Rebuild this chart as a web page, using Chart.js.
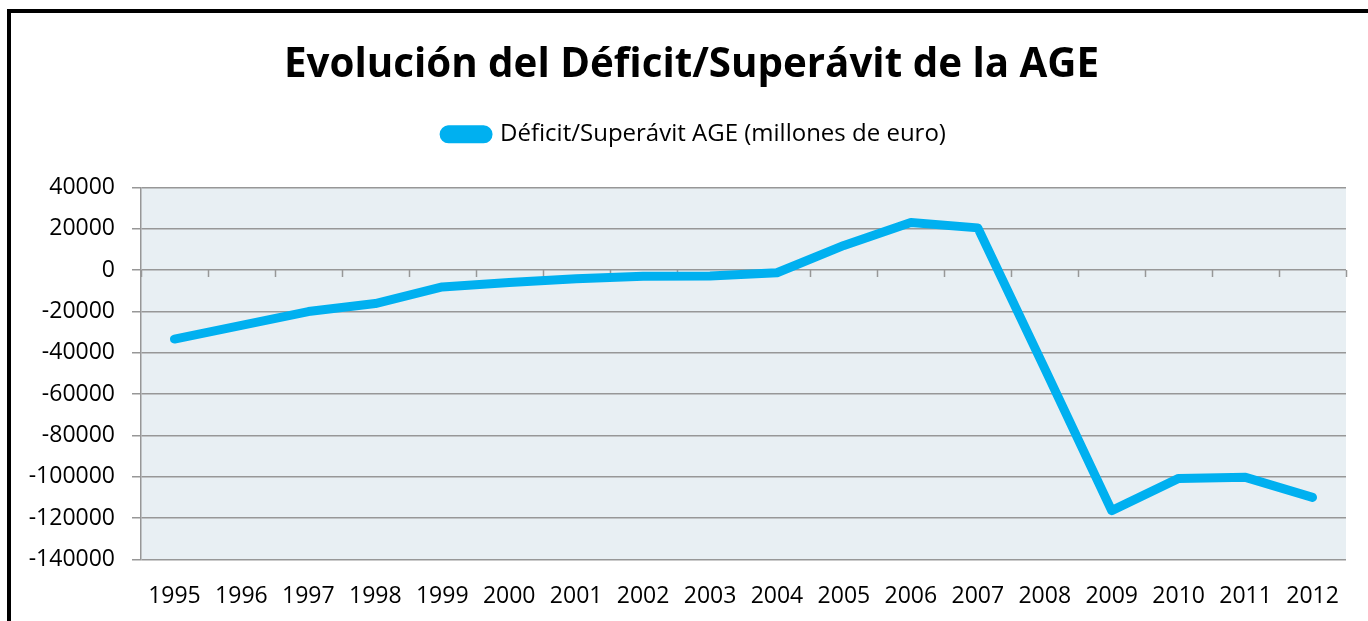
<!DOCTYPE html>
<html>
<head>
<meta charset="utf-8">
<script src="https://cdn.jsdelivr.net/npm/chart.js@4.4.1/dist/chart.umd.min.js"></script>
<style>
    html, body { margin: 0; padding: 0; background: #fff; overflow: hidden; }
    #wrap { position: relative; width: 1368px; height: 621px; }
    #frame {
        position: absolute; left: 7px; top: 9px; width: 1400px; height: 700px;
        border: 4px solid #000; pointer-events: none;
    }
</style>
</head>
<body>
<div id="wrap">
    <canvas id="deficitChart" width="1368" height="621"></canvas>
    <div id="frame"></div>
</div>
<script>
// Datos
const years = ['1995', '1996', '1997', '1998', '1999', '2000', '2001', '2002', '2003',
               '2004', '2005', '2006', '2007', '2008', '2009', '2010', '2011', '2012'];
const saldoAGE = [-33400, -26800, -20100, -16200, -8200, -6000, -4200, -3000, -2900,
                  -1300, 11900, 23000, 20400, -47700, -116400, -100800, -100300, -110000];
const yTicks = [40000, 20000, 0, -20000, -40000, -60000, -80000, -100000, -120000, -140000];

const FONT = "'Open Sans', 'Noto Sans', sans-serif";
const GRID = '#979797';

// fondo del área de trazado
const plotBackground = {
    id: 'plotBackground',
    beforeDraw(chart) {
        const { ctx, chartArea: { left, top, width, height } } = chart;
        ctx.save();
        ctx.fillStyle = '#e8eff3';
        ctx.fillRect(left, top, width, height);
        ctx.restore();
    }
};

// marcas del eje de categorías sobre la línea del cero
const zeroAxisTicks = {
    id: 'zeroAxisTicks',
    beforeDatasetsDraw(chart) {
        const { ctx, scales: { x, y } } = chart;
        const y0 = y.getPixelForValue(0);
        const n = x.ticks.length;
        const w = (x.right - x.left) / n;
        ctx.save();
        ctx.strokeStyle = GRID;
        ctx.lineWidth = 1.5;
        ctx.beginPath();
        for (let i = 0; i <= n; i++) {
            const xp = Math.round(x.left + i * w) + 0.5;
            ctx.moveTo(xp, y0);
            ctx.lineTo(xp, y0 + 7);
        }
        ctx.stroke();
        ctx.restore();
    }
};

// espacio bajo la leyenda y centrado de título/leyenda sobre todo el lienzo
const headerLayout = {
    id: 'headerLayout',
    afterInit(chart) {
        const fit = chart.legend.fit;
        chart.legend.fit = function () {
            fit.call(this);
            this.height += 31;
        };
    },
    afterLayout(chart) {
        const t = chart.titleBlock, l = chart.legend;
        t.left = 15; t.right = chart.width; t.width = t.right - t.left;
        l.left = 22; l.right = chart.width; l.width = l.right - l.left;
    }
};

new Chart(document.getElementById('deficitChart'), {
    type: 'line',
    data: {
        labels: years,
        datasets: [{
            label: 'Déficit/Superávit AGE (millones de euro)',
            data: saldoAGE,
            borderColor: '#00b0f0',
            backgroundColor: '#00b0f0',
            borderWidth: 9,
            borderCapStyle: 'round',
            borderJoinStyle: 'round',
            pointRadius: 0,
            tension: 0,
            fill: false
        }]
    },
    options: {
        responsive: false,
        animation: false,
        devicePixelRatio: 1,
        layout: { padding: { left: 0, right: 22, top: 0, bottom: -4 } },
        plugins: {
            title: {
                display: true,
                text: 'Evolución del Déficit/Superávit de la AGE',
                color: '#000',
                font: { family: FONT, size: 40.3, weight: 'bold', lineHeight: 1.2 },
                padding: { top: 41, bottom: 23 }
            },
            legend: {
                display: true,
                position: 'top',
                labels: {
                    color: '#000',
                    font: { family: FONT, size: 24 },
                    boxWidth: 44,
                    boxHeight: 9,
                    useBorderRadius: true,
                    borderRadius: 4.5,
                    padding: 10
                }
            },
            tooltip: { enabled: false }
        },
        scales: {
            x: {
                type: 'category',
                offset: true,
                grid: { display: false },
                border: { display: false },
                ticks: {
                    color: '#000',
                    font: { family: FONT, size: 23 },
                    padding: 15,
                    maxRotation: 0,
                    autoSkip: false
                }
            },
            y: {
                min: -140000,
                max: 40000,
                afterFit(scale) { scale.width = 141; },
                afterBuildTicks(scale) { scale.ticks = yTicks.map(v => ({ value: v })); },
                grid: {
                    color: GRID,
                    lineWidth: 1.5,
                    drawTicks: true,
                    tickLength: 9
                },
                border: { display: true, color: GRID, width: 1.5 },
                ticks: {
                    color: '#000',
                    font: { family: FONT, size: 23 },
                    padding: 17,
                    callback: (v) => String(v)
                }
            }
        }
    },
    plugins: [plotBackground, zeroAxisTicks, headerLayout]
});
</script>
</body>
</html>
